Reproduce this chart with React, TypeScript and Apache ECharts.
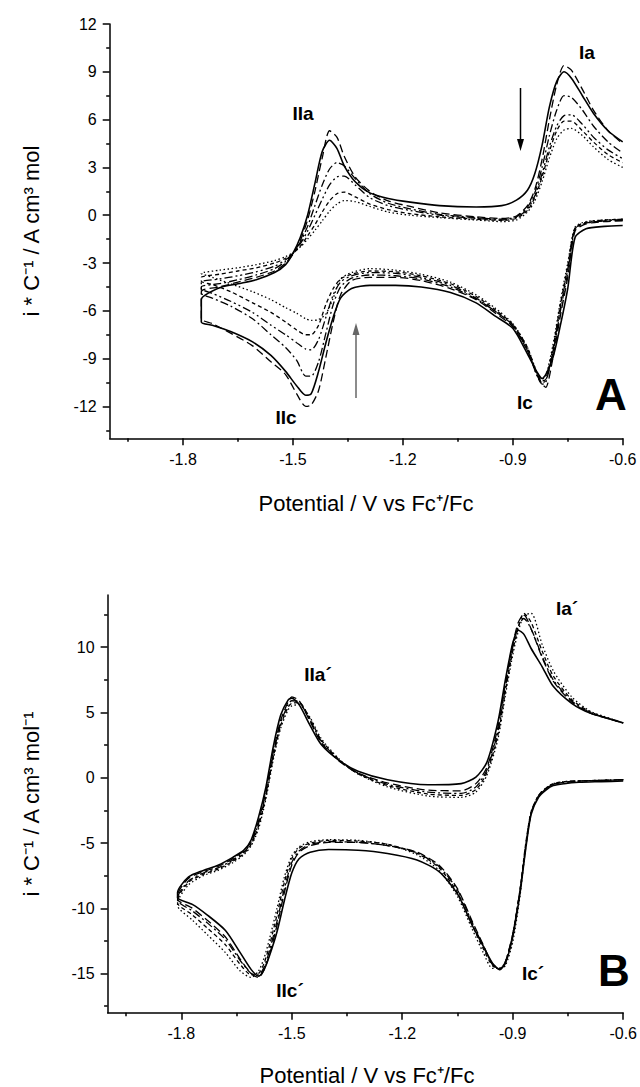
import React, { useEffect, useRef } from "react";
import * as echarts from "echarts";

// ---------- Panel A (potential in V vs Fc+/Fc, current i*C^-1) ----------
const POT_A_CATH = [-0.60, -0.65, -0.70, -0.73, -0.75, -0.77, -0.79, -0.81, -0.82, -0.835, -0.86, -0.90, -0.95, -1.00, -1.07, -1.15, -1.22, -1.29, -1.34, -1.37, -1.39, -1.41, -1.43, -1.45, -1.465, -1.49, -1.52, -1.56, -1.61, -1.67, -1.72, -1.75];
const POT_A_AN = [-1.75, -1.70, -1.65, -1.60, -1.55, -1.52, -1.50, -1.48, -1.46, -1.44, -1.42, -1.40, -1.38, -1.36, -1.33, -1.29, -1.24, -1.18, -1.10, -1.00, -0.93, -0.89, -0.86, -0.84, -0.82, -0.80, -0.78, -0.76, -0.74, -0.71, -0.68, -0.64, -0.60];

const A_SOLID_CATH = [-0.65, -0.7, -0.85, -1.4, -4.6, -6.9, -8.9, -10.0, -10.25, -9.8, -8.7, -7.1, -6.3, -5.5, -4.85, -4.5, -4.4, -4.4, -4.6, -5.2, -6.4, -8.0, -9.8, -11.2, -11.3, -10.7, -9.8, -8.8, -7.95, -7.3, -6.9, -6.7];
const A_SOLID_AN = [-5.3, -4.55, -4.3, -4.05, -3.6, -3.1, -2.4, -1.4, 0.0, 2.0, 4.0, 4.7, 4.2, 3.1, 2.1, 1.4, 1.05, 0.82, 0.6, 0.52, 0.6, 0.95, 1.57, 2.6, 4.4, 6.8, 8.4, 9.0, 8.6, 7.5, 6.4, 5.3, 4.6];

const A_LDASH_CATH = [-0.35, -0.4, -0.55, -1.0, -3.9, -6.3, -8.9, -10.8, -10.6, -9.9, -8.5, -7.0, -6.1, -5.3, -4.6, -4.1, -3.9, -3.9, -4.1, -5.0, -6.7, -8.9, -11.0, -11.9, -12.0, -11.2, -10.0, -9.2, -8.2, -7.4, -6.8, -6.5];
const A_LDASH_AN = [-4.8, -4.5, -4.2, -3.9, -3.5, -3.0, -2.45, -1.6, -0.3, 1.5, 3.6, 5.3, 4.9, 3.7, 2.4, 1.5, 0.9, 0.55, 0.15, -0.1, -0.2, -0.05, 0.6, 1.6, 3.5, 6.0, 8.2, 9.4, 9.1, 7.9, 6.6, 5.3, 4.5];

const A_DDOT_CATH = [-0.3, -0.35, -0.5, -0.9, -3.6, -6.0, -8.6, -10.5, -10.6, -10.0, -8.5, -6.9, -6.0, -5.25, -4.5, -4.0, -3.8, -3.75, -3.95, -4.5, -5.6, -7.4, -9.2, -10.1, -10.1, -9.1, -8.3, -7.5, -6.5, -5.7, -5.2, -4.9];
const A_DDOT_AN = [-4.5, -4.3, -4.05, -3.75, -3.35, -2.9, -2.4, -1.7, -0.7, 0.6, 1.9, 2.9, 3.3, 3.1, 2.3, 1.35, 0.75, 0.4, 0.05, -0.15, -0.25, -0.1, 0.5, 1.4, 3.0, 5.0, 6.6, 7.5, 7.4, 6.6, 5.6, 4.6, 3.9];

const A_DDD_CATH = [-0.3, -0.35, -0.5, -0.85, -3.4, -5.8, -8.5, -10.4, -10.5, -10.0, -8.4, -6.9, -6.0, -5.2, -4.4, -3.9, -3.65, -3.6, -3.8, -4.2, -5.0, -6.4, -7.8, -8.45, -8.4, -8.0, -7.5, -6.9, -6.1, -5.4, -4.9, -4.6];
const A_DDD_AN = [-4.2, -4.0, -3.8, -3.55, -3.2, -2.8, -2.4, -1.8, -1.0, 0.0, 1.0, 1.9, 2.4, 2.45, 1.9, 1.1, 0.6, 0.3, 0.0, -0.2, -0.3, -0.15, 0.4, 1.2, 2.6, 4.3, 5.6, 6.25, 6.3, 5.7, 4.9, 4.1, 3.55];

const A_SDASH_CATH = [-0.25, -0.3, -0.45, -0.8, -3.2, -5.6, -8.3, -10.3, -10.4, -9.9, -8.3, -6.85, -5.9, -5.1, -4.3, -3.8, -3.55, -3.5, -3.7, -4.0, -4.6, -5.6, -6.9, -7.5, -7.5, -7.2, -6.7, -6.1, -5.5, -4.8, -4.35, -4.15];
const A_SDASH_AN = [-3.9, -3.7, -3.5, -3.3, -3.0, -2.7, -2.4, -1.95, -1.3, -0.6, 0.2, 0.9, 1.35, 1.45, 1.15, 0.7, 0.35, 0.1, -0.1, -0.25, -0.32, -0.2, 0.3, 1.1, 2.4, 4.0, 5.3, 5.9, 5.9, 5.3, 4.6, 3.8, 3.3];

const A_DOT_CATH = [-0.25, -0.3, -0.4, -0.75, -3.0, -5.4, -8.1, -10.1, -10.3, -9.8, -8.3, -6.8, -5.8, -5.0, -4.2, -3.7, -3.45, -3.35, -3.6, -4.0, -5.2, -6.2, -6.55, -6.6, -6.5, -6.15, -5.8, -5.3, -4.8, -4.3, -3.9, -3.65];
const A_DOT_AN = [-3.65, -3.45, -3.3, -3.1, -2.85, -2.6, -2.35, -2.0, -1.5, -0.95, -0.35, 0.25, 0.7, 0.92, 0.85, 0.55, 0.2, 0.0, -0.15, -0.3, -0.4, -0.3, 0.2, 0.9, 2.1, 3.6, 4.8, 5.35, 5.45, 5.0, 4.3, 3.5, 3.0];

// ---------- Panel B ----------
const POT_B_CATH = [-0.60, -0.66, -0.72, -0.76, -0.79, -0.81, -0.83, -0.85, -0.865, -0.88, -0.90, -0.92, -0.935, -0.955, -0.98, -1.01, -1.05, -1.10, -1.16, -1.24, -1.32, -1.40, -1.45, -1.48, -1.50, -1.52, -1.54, -1.56, -1.575, -1.59, -1.61, -1.64, -1.68, -1.73, -1.77, -1.81];
const POT_B_AN = [-1.81, -1.78, -1.74, -1.70, -1.66, -1.63, -1.61, -1.59, -1.57, -1.55, -1.53, -1.51, -1.50, -1.48, -1.45, -1.42, -1.37, -1.32, -1.24, -1.13, -1.04, -1.00, -0.97, -0.94, -0.92, -0.90, -0.885, -0.87, -0.85, -0.82, -0.79, -0.74, -0.69, -0.63, -0.60];

const B_SOLID_CATH = [-0.25, -0.3, -0.35, -0.45, -0.6, -0.95, -1.5, -2.8, -5.5, -8.8, -12.2, -14.2, -14.7, -14.2, -12.9, -11.3, -8.9, -7.2, -6.3, -5.8, -5.55, -5.5, -5.7, -6.2, -7.3, -9.4, -11.8, -13.6, -14.7, -15.2, -14.7, -13.4, -11.7, -10.5, -9.7, -9.2];
const B_SOLID_AN = [-8.8, -7.6, -7.1, -6.7, -6.1, -5.55, -4.75, -3.0, -0.7, 2.4, 4.8, 5.95, 6.1, 5.6, 4.0, 2.55, 1.3, 0.5, -0.15, -0.54, -0.45, 0.05, 1.2, 4.3, 7.5, 10.3, 11.3, 11.0, 9.9, 8.5, 7.0, 5.7, 4.95, 4.45, 4.2];

const B_LDASH_CATH = [-0.15, -0.2, -0.25, -0.35, -0.5, -0.85, -1.4, -2.7, -5.3, -8.6, -12.0, -14.1, -14.7, -14.3, -12.8, -11.0, -8.5, -6.7, -5.7, -5.2, -4.95, -4.95, -5.2, -5.7, -6.7, -8.8, -11.3, -13.5, -14.7, -15.3, -15.0, -13.9, -12.2, -10.9, -10.0, -9.3];
const B_LDASH_AN = [-9.0, -7.7, -7.2, -6.8, -6.2, -5.6, -4.9, -3.3, -1.0, 2.0, 4.4, 5.8, 6.2, 5.9, 4.3, 2.7, 1.25, 0.35, -0.4, -0.95, -1.0, -0.45, 0.8, 3.9, 7.2, 10.2, 11.9, 12.5, 11.4, 9.2, 7.4, 5.8, 4.95, 4.45, 4.2];

const B_DDOT_CATH = [-0.15, -0.2, -0.25, -0.35, -0.5, -0.85, -1.4, -2.7, -5.3, -8.6, -12.0, -14.1, -14.6, -14.3, -12.9, -11.1, -8.6, -6.8, -5.75, -5.2, -4.95, -4.9, -5.1, -5.6, -6.5, -8.5, -11.0, -13.2, -14.5, -15.1, -15.0, -14.0, -12.4, -11.1, -10.2, -9.4];
const B_DDOT_AN = [-9.2, -7.9, -7.3, -6.9, -6.3, -5.7, -5.0, -3.5, -1.2, 1.8, 4.2, 5.6, 5.9, 5.8, 4.4, 2.8, 1.3, 0.35, -0.5, -1.1, -1.2, -0.7, 0.6, 3.6, 6.9, 10.0, 11.6, 12.2, 11.4, 9.3, 7.5, 5.9, 5.0, 4.45, 4.2];

const B_SDASH_CATH = [-0.15, -0.2, -0.25, -0.3, -0.45, -0.8, -1.35, -2.6, -5.1, -8.5, -12.0, -14.2, -14.6, -14.4, -13.1, -11.3, -8.8, -6.9, -5.8, -5.1, -4.85, -4.8, -5.0, -5.4, -6.2, -8.0, -10.5, -12.8, -14.2, -15.0, -15.1, -14.3, -12.8, -11.5, -10.5, -9.6];
const B_SDASH_AN = [-9.4, -8.0, -7.4, -7.0, -6.4, -5.8, -5.1, -3.7, -1.4, 1.6, 4.0, 5.4, 5.7, 5.75, 4.5, 2.9, 1.35, 0.3, -0.6, -1.25, -1.35, -0.9, 0.4, 3.3, 6.6, 9.7, 11.5, 12.6, 11.9, 9.7, 7.8, 6.0, 5.05, 4.45, 4.2];

const B_DOT_CATH = [-0.15, -0.2, -0.25, -0.3, -0.45, -0.8, -1.35, -2.7, -5.4, -9.0, -12.6, -14.4, -14.6, -14.6, -13.4, -11.6, -9.1, -7.1, -5.9, -5.1, -4.8, -4.75, -4.9, -5.3, -6.0, -7.6, -10.0, -12.3, -13.8, -14.8, -15.3, -14.8, -13.4, -12.0, -10.9, -9.8];
const B_DOT_AN = [-9.6, -8.2, -7.5, -7.1, -6.5, -5.9, -5.2, -3.9, -1.6, 1.4, 3.8, 5.2, 5.5, 5.6, 4.6, 3.0, 1.4, 0.3, -0.7, -1.4, -1.5, -1.1, 0.2, 3.0, 6.3, 9.4, 11.2, 12.4, 12.6, 10.2, 8.2, 6.2, 5.1, 4.5, 4.2];

// ---------- Axis ticks ----------
const X_MAJOR = [-1.8, -1.5, -1.2, -0.9, -0.6];
const X_MINOR = [-1.95, -1.65, -1.35, -1.05, -0.75];
const YA_MAJOR = [-12, -9, -6, -3, 0, 3, 6, 9, 12];
const YA_MINOR = [-13.5, -10.5, -7.5, -4.5, -1.5, 1.5, 4.5, 7.5, 10.5];
const YB_MAJOR = [-15, -10, -5, 0, 5, 10];
const YB_MINOR = [-17.5, -12.5, -7.5, -2.5, 2.5, 7.5, 12.5];

const FONT = '"Liberation Sans", Arial, Helvetica, sans-serif';

const STYLES: Record<string, any> = {
  solid: "solid",
  ldash: [8, 4],
  ddot: [8, 3, 2, 3],
  ddd: [8, 3, 2, 3, 2, 3],
  sdash: [4, 3],
  dot: [1.5, 2.5],
};

function loop(pc: number[], ic: number[], pa: number[], ia: number[]) {
  return pc.map((v, i) => [v, ic[i]]).concat(pa.map((v, i) => [v, ia[i]]));
}

function xAxes(grid: number) {
  const base = {
    type: "value",
    gridIndex: grid,
    min: -2,
    max: -0.6,
    position: "bottom",
    offset: 0,
    splitLine: { show: false },
  };
  return [
    {
      ...base,
      axisLine: { show: true, onZero: false, lineStyle: { color: "#000", width: 1.5 } },
      axisTick: { show: true, inside: false, length: 7, customValues: X_MAJOR, lineStyle: { color: "#000", width: 1.5 } },
      axisLabel: {
        show: true,
        customValues: X_MAJOR,
        margin: 13,
        color: "#000",
        fontSize: 16,
        fontFamily: FONT,
        formatter: (v: number) => v.toFixed(1),
      },
    },
    {
      ...base,
      axisLine: { show: false, onZero: false },
      axisTick: { show: true, inside: false, length: 3.5, customValues: X_MINOR, lineStyle: { color: "#000", width: 1.5 } },
      axisLabel: { show: false },
    },
  ];
}

function yAxes(grid: number, min: number, max: number, major: number[], minor: number[]) {
  const base = {
    type: "value",
    gridIndex: grid,
    min,
    max,
    position: "left",
    offset: 0,
    splitLine: { show: false },
  };
  return [
    {
      ...base,
      axisLine: { show: true, onZero: false, lineStyle: { color: "#000", width: 1.5 } },
      axisTick: { show: true, inside: false, length: 7, customValues: major, lineStyle: { color: "#000", width: 1.5 } },
      axisLabel: {
        show: true,
        customValues: major,
        margin: 13,
        color: "#000",
        fontSize: 16,
        fontFamily: FONT,
      },
    },
    {
      ...base,
      axisLine: { show: false, onZero: false },
      axisTick: { show: true, inside: false, length: 3.5, customValues: minor, lineStyle: { color: "#000", width: 1.5 } },
      axisLabel: { show: false },
    },
  ];
}

function series(name: string, data: number[][], style: string, xi: number, yi: number) {
  return {
    type: "line",
    name,
    data,
    xAxisIndex: xi,
    yAxisIndex: yi,
    showSymbol: false,
    symbol: "none",
    smooth: 0.25,
    clip: false,
    lineStyle: { color: "#000", width: style === "solid" ? 1.6 : 1.3, type: STYLES[style] },
  };
}

function label(text: string, x: number, y: number, size = 19) {
  return {
    type: "text",
    x,
    y,
    silent: true,
    style: {
      text,
      fill: "#000",
      font: `bold ${size}px ${FONT}`,
      align: "center",
      verticalAlign: "middle",
    },
  };
}

function title(text: string, x: number, y: number, rotate = false) {
  return {
    type: "text",
    x,
    y,
    rotation: rotate ? Math.PI / 2 : 0,
    silent: true,
    style: {
      text,
      fill: "#000",
      font: `22px ${FONT}`,
      align: "center",
      verticalAlign: "middle",
    },
  };
}

export default function App() {
  const ref = useRef<HTMLDivElement>(null);

  useEffect(() => {
    if (!ref.current) return;
    const chart = echarts.init(ref.current, undefined, { renderer: "svg" });

    const option: any = {
      animation: false,
      backgroundColor: "#fff",
      grid: [
        { left: 109.7, top: 24, width: 513, height: 414.3, containLabel: false },
        { left: 107.6, top: 595, width: 518.4, height: 417.7, containLabel: false },
      ],
      xAxis: [...xAxes(0), ...xAxes(1)],
      yAxis: [...yAxes(0, -14, 12, YA_MAJOR, YA_MINOR), ...yAxes(1, -18, 14, YB_MAJOR, YB_MINOR)],
      series: [
        series("A dotted", loop(POT_A_CATH, A_DOT_CATH, POT_A_AN, A_DOT_AN), "dot", 0, 0),
        series("A short dash", loop(POT_A_CATH, A_SDASH_CATH, POT_A_AN, A_SDASH_AN), "sdash", 0, 0),
        series("A dash-dot-dot", loop(POT_A_CATH, A_DDD_CATH, POT_A_AN, A_DDD_AN), "ddd", 0, 0),
        series("A dash-dot", loop(POT_A_CATH, A_DDOT_CATH, POT_A_AN, A_DDOT_AN), "ddot", 0, 0),
        series("A long dash", loop(POT_A_CATH, A_LDASH_CATH, POT_A_AN, A_LDASH_AN), "ldash", 0, 0),
        series("A solid", loop(POT_A_CATH, A_SOLID_CATH, POT_A_AN, A_SOLID_AN), "solid", 0, 0),
        series("B dotted", loop(POT_B_CATH, B_DOT_CATH, POT_B_AN, B_DOT_AN), "dot", 2, 2),
        series("B short dash", loop(POT_B_CATH, B_SDASH_CATH, POT_B_AN, B_SDASH_AN), "sdash", 2, 2),
        series("B dash-dot", loop(POT_B_CATH, B_DDOT_CATH, POT_B_AN, B_DDOT_AN), "ddot", 2, 2),
        series("B long dash", loop(POT_B_CATH, B_LDASH_CATH, POT_B_AN, B_LDASH_AN), "ldash", 2, 2),
        series("B solid", loop(POT_B_CATH, B_SOLID_CATH, POT_B_AN, B_SOLID_AN), "solid", 2, 2),
      ],
      graphic: [
        title("i * C⁻¹ / A cm³ mol", 31, 231, true),
        title("Potential / V vs Fc⁺/Fc", 366, 503),
        title("i * C⁻¹ / A cm³ mol⁻¹", 31, 804, true),
        title("Potential / V vs Fc⁺/Fc", 367, 1075),
        label("IIa", 303, 113),
        label("Ia", 587, 52),
        label("IIc", 286, 417),
        label("Ic", 525, 402),
        label("A", 611, 394, 44),
        label("IIa´", 318, 674),
        label("Ia´", 567, 608),
        label("IIc´", 290, 990),
        label("Ic´", 533, 973),
        label("B", 614, 970, 44),
        // arrow down (black) near Ia
        { type: "line", silent: true, shape: { x1: 520.5, y1: 88, x2: 520.5, y2: 141 }, style: { stroke: "#000", lineWidth: 1.5 } },
        { type: "polygon", silent: true, shape: { points: [[517, 139], [524, 139], [520.5, 151]] }, style: { fill: "#000" } },
        // arrow up (grey) near IIc
        { type: "line", silent: true, shape: { x1: 356, y1: 398, x2: 356, y2: 333 }, style: { stroke: "#666", lineWidth: 1.5 } },
        { type: "polygon", silent: true, shape: { points: [[352.5, 335], [359.5, 335], [356, 323]] }, style: { fill: "#666" } },
      ],
    };

    chart.setOption(option);
    return () => chart.dispose();
  }, []);

  return (
    <div
      ref={ref}
      style={{ position: "absolute", left: 0, top: 0, width: 640, height: 1087, background: "#fff" }}
    />
  );
}
